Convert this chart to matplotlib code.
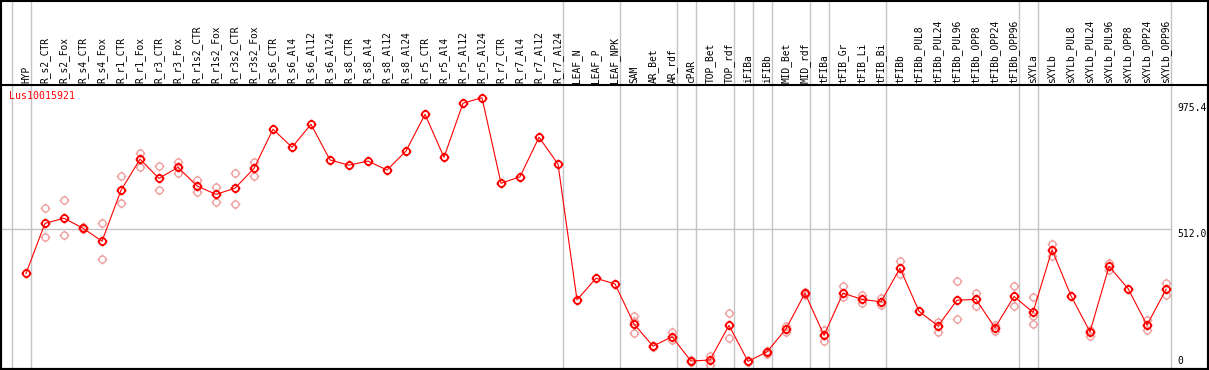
import numpy as np
import matplotlib.pyplot as plt
from matplotlib.path import Path
from matplotlib.patches import Rectangle
import matplotlib.transforms as mtrans

gene = "Lus10015921"

samples = ["HYP",
           "R_s2_CTR", "R_s2_Fox", "R_s4_CTR", "R_s4_Fox", "R_r1_CTR", "R_r1_Fox",
           "R_r3_CTR", "R_r3_Fox", "R_r1s2_CTR", "R_r1s2_Fox", "R_r3s2_CTR", "R_r3s2_Fox",
           "R_s6_CTR", "R_s6_Al4", "R_s6_Al12", "R_s6_Al24",
           "R_s8_CTR", "R_s8_Al4", "R_s8_Al12", "R_s8_Al24",
           "R_r5_CTR", "R_r5_Al4", "R_r5_Al12", "R_r5_Al24",
           "R_r7_CTR", "R_r7_Al4", "R_r7_Al12", "R_r7_Al24",
           "LEAF_N", "LEAF_P", "LEAF_NPK",
           "SAM", "AR_Bet", "AR_rdf", "cPAR", "TOP_Bet", "TOP_rdf",
           "iFIBa", "iFIBb", "MID_Bet", "MID_rdf",
           "tFIBa", "tFIB_Gr", "tFIB_Li", "tFIB_Bi",
           "tFIBb", "tFIBb_PUL8", "tFIBb_PUL24", "tFIBb_PUL96",
           "tFIBb_OPP8", "tFIBb_OPP24", "tFIBb_OPP96",
           "sXYLa", "sXYLb", "sXYLb_PUL8", "sXYLb_PUL24", "sXYLb_PUL96",
           "sXYLb_OPP8", "sXYLb_OPP24", "sXYLb_OPP96"]

# mean expression per sample
means = [347,
         532, 551, 514, 466, 654, 769, 698, 739, 670, 639, 662, 735,
         880, 813, 898, 766,
         747, 762, 729, 799,
         935, 776, 976, 996,
         680, 704, 850, 751,
         249, 329, 308,
         160, 78, 113, 23, 27, 155,
         22, 57, 142, 274,
         118, 274, 251, 242,
         366, 207, 153, 248,
         251, 146, 262,
         203, 434, 264, 131, 373,
         291, 156, 288]

# individual replicates
reps = [[],
        [588, 480], [617, 488], [520, 511], [532, 399], [706, 606], [791, 741],
        [743, 654], [758, 719], [691, 647], [665, 610], [717, 602], [760, 708],
        [], [], [], [],
        [], [], [], [],
        [], [], [], [],
        [], [], [], [],
        [], [], [],
        [190, 126, 172], [80, 75], [129, 101], [27, 20], [42, 9], [201, 107],
        [25, 20], [49, 62], [153, 131], [279, 267],
        [138, 98], [300, 259], [267, 237], [255, 230],
        [392, 344], [], [169, 132], [319, 179],
        [275, 228], [156, 134], [300, 225],
        [259, 191, 159], [456, 411], [], [138, 116], [387, 360],
        [], [175, 138], [312, 268]]

# group separators come after these sample indices
sep_after = [-1, 0, 28, 31, 34, 35, 37, 38, 39, 41, 42, 45, 52, 53, 60]
ytick_vals = [0, 512.0, 975.4]
ytick_text = ["0", "512.0", "975.4"]

W, H = 1209, 370
fig = plt.figure(figsize=(W / 100, H / 100), dpi=100)
ax = fig.add_axes([1 / W, 1 / H, 1207 / W, 284 / H])
ax.set_xlim(-1.316, 62.21)
ax.set_ylim(-6.3, 1043.2)
ax.set_xticks([])
ax.set_yticks([])
for sp in ax.spines.values():
    sp.set_linewidth(1.5)
    sp.set_color("black")

# circle marker with four small ticks
circ = Path.circle((0, 0), 1.0)
ticks = Path([(0, 1), (0, 1.4), (0, -1), (0, -1.4), (1, 0), (1.4, 0), (-1, 0), (-1.4, 0)],
             [Path.MOVETO, Path.LINETO] * 4)
sun = Path.make_compound_path(circ, ticks)

x = np.arange(len(samples))
mono = "DejaVu Sans Mono"

# separators through plot and label area
for s in sep_after:
    ax.axvline(s + 0.24, ymin=0, ymax=369 / 284, color="#c4c4c4", lw=1.0,
               clip_on=False, zorder=1)
ax.plot([-1.316, sep_after[-1] + 0.24], [ytick_vals[1]] * 2, color="#c4c4c4", lw=1.0, zorder=1)

for i, r in enumerate(reps):
    if r:
        ax.plot([i] * len(r), r, ls="none", marker=sun, ms=7, mfc="none",
                mec="#f0a0a0", mew=1.0, zorder=2)

ax.plot(x, means, color="red", lw=0.8, marker=sun, ms=7, mfc="none",
        mec="red", mew=1.3, zorder=3)

# sample labels above the plot
trans = mtrans.blended_transform_factory(ax.transData, ax.transAxes)
for i, s in enumerate(samples):
    ax.text(i, 1 + 2 / 284, s, transform=trans, rotation=90, ha="center",
            va="bottom", fontsize=6.9, family=mono, clip_on=False)

# y labels on the right
xl = 60.58
ax.text(xl, ytick_vals[2], ytick_text[2], ha="left", va="top", fontsize=7, family=mono)
ax.text(xl, ytick_vals[1], ytick_text[1], ha="left", va="top", fontsize=7, family=mono)
ax.text(xl, 0.012, ytick_text[0], transform=trans, ha="left", va="bottom",
        fontsize=7, family=mono)

ax.text(8.3 / 1207, (369 - 91) / 284, gene, transform=ax.transAxes, color="red",
        ha="left", va="top", fontsize=7.1, family=mono)

fig.add_artist(Rectangle((1 / W, 1 / H), 1207 / W, 368.5 / H, transform=fig.transFigure,
                         fill=False, ec="black", lw=1.5))

fig.savefig("out.png", dpi=100)
